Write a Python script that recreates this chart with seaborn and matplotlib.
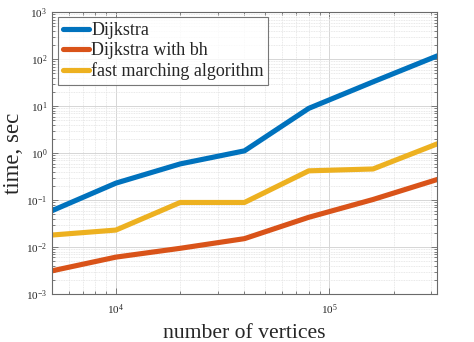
import numpy as np
import pandas as pd
import matplotlib
matplotlib.use("Agg")
import matplotlib.pyplot as plt
import matplotlib.ticker as mticker
import seaborn as sns

# Running time of shortest-path algorithms versus graph size
vertices = [5000, 10000, 20000, 40000, 80000, 160000, 320000]
dijkstra = [0.059, 0.23, 0.59, 1.12, 9.0, 33.0, 118.0]
dijkstra_bh = [0.0031, 0.0061, 0.0094, 0.0151, 0.043, 0.103, 0.275]
fast_marching = [0.018, 0.023, 0.089, 0.089, 0.42, 0.46, 1.58]

series_names = ["Dijkstra", "Dijkstra with bh", "fast marching algorithm"]
series_colors = ["#0072BD", "#D95319", "#EDB120"]

df = pd.concat([
    pd.DataFrame({"vertices": vertices, "time": vals, "method": name})
    for name, vals in zip(series_names, [dijkstra, dijkstra_bh, fast_marching])
])

sns.set_style("ticks")
plt.rcParams["font.family"] = ["Liberation Serif", "DejaVu Serif"]
plt.rcParams["mathtext.fontset"] = "stix"

fig = plt.figure(figsize=(4.74, 3.42), dpi=100)
ax = fig.add_axes([0.109, 0.1404, 0.8136, 0.8236])

sns.lineplot(data=df, x="vertices", y="time", hue="method",
             palette=dict(zip(series_names, series_colors)),
             linewidth=3.7, ax=ax, legend=True)

ax.set_xscale("log")
ax.set_yscale("log")
ax.set_xlim(5000, 320000)
ax.set_ylim(1e-3, 1e3)

ax.yaxis.set_major_locator(mticker.LogLocator(base=10, numticks=10))
ax.yaxis.set_minor_locator(mticker.LogLocator(base=10, subs=np.arange(2, 10), numticks=20))
ax.xaxis.set_major_locator(mticker.LogLocator(base=10, numticks=10))
ax.xaxis.set_minor_locator(mticker.LogLocator(base=10, subs=np.arange(2, 10), numticks=20))
ax.yaxis.set_minor_formatter(mticker.NullFormatter())
ax.xaxis.set_minor_formatter(mticker.NullFormatter())

ax.grid(True, which="major", color="#d6d6d6", linewidth=0.7)
ax.grid(True, which="minor", color="#e2e2e2", linewidth=0.6, linestyle=(0, (1, 1)))
ax.set_axisbelow(True)

for s in ax.spines.values():
    s.set_color("#6a6a6a")
    s.set_linewidth(0.8)
ax.tick_params(which="both", direction="in", top=True, right=True,
               color="#6a6a6a", width=0.6)
ax.tick_params(which="major", length=4, labelsize=8, labelcolor="#262626")
ax.tick_params(axis="x", which="major", pad=6)
ax.tick_params(axis="y", which="major", pad=3.2)
ax.tick_params(which="minor", length=2)

ax.set_xlabel("number of vertices", fontsize=15.6, color="#262626")
ax.set_ylabel("time, sec", fontsize=16.5, color="#262626")
ax.xaxis.set_label_coords(0.5, -0.106)
ax.yaxis.set_label_coords(-0.072, 0.5)

leg = ax.legend(loc="upper left", bbox_to_anchor=(0.017, 0.982), fontsize=13,
                frameon=True, fancybox=False, edgecolor="#555555",
                handlelength=1.45, handletextpad=0.13, borderpad=0.25,
                borderaxespad=0.0, labelspacing=0.18)
leg.get_frame().set_linewidth(0.8)
for line in leg.get_lines():
    line.set_linewidth(3.7)

fig.savefig("out.png", dpi=100)
